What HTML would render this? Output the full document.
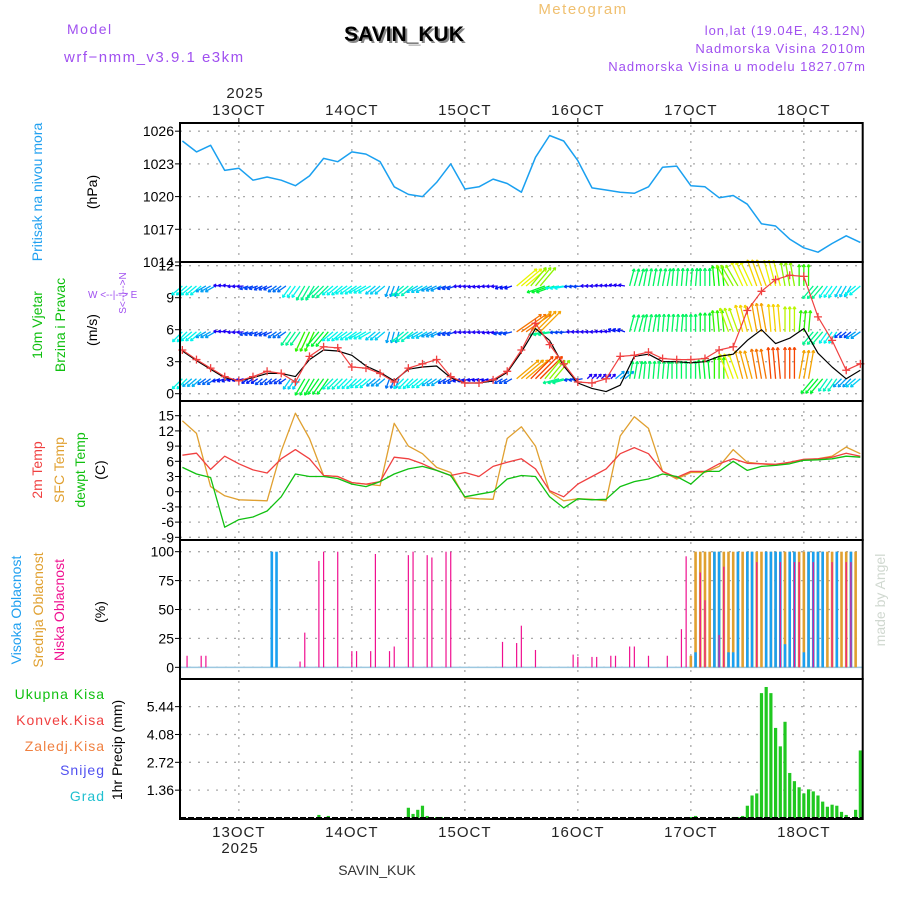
<!DOCTYPE html>
<html><head><meta charset="utf-8"><style>
html,body{margin:0;padding:0;background:#fff;}
#wrap{position:relative;width:900px;height:900px;overflow:hidden;font-family:"Liberation Sans",sans-serif;}
svg text{font-family:"Liberation Sans",sans-serif;}
</style></head><body>
<div id="wrap">
<svg id="chart" width="900" height="900" viewBox="0 0 900 900" xmlns="http://www.w3.org/2000/svg">
<text x="67" y="34" fill="#a050f0" font-size="14" letter-spacing="1.5">Model</text>
<text x="64" y="62" fill="#a050f0" font-size="15" letter-spacing="1.5">wrf−nmm_v3.9.1 e3km</text>
<text x="406" y="43" fill="#888" font-size="21" font-weight="bold" text-anchor="middle" font-family="Liberation Serif">SAVIN_KUK</text>
<text x="404" y="41" fill="#000" font-size="21" font-weight="bold" text-anchor="middle" font-family="Liberation Serif">SAVIN_KUK</text>
<text x="583" y="14" fill="#f0c070" font-size="15" letter-spacing="1.5" text-anchor="middle">Meteogram</text>
<text x="866" y="35" fill="#a050f0" font-size="13" letter-spacing="1" text-anchor="end">lon,lat (19.04E, 43.12N)</text>
<text x="866" y="53" fill="#a050f0" font-size="13" letter-spacing="1" text-anchor="end">Nadmorska Visina 2010m</text>
<text x="866" y="71" fill="#a050f0" font-size="13" letter-spacing="1" text-anchor="end">Nadmorska Visina u modelu 1827.07m</text>
<text x="245" y="98" fill="#222" font-size="15" letter-spacing="1" text-anchor="middle">2025</text>
<text x="240" y="853" fill="#222" font-size="15" letter-spacing="1" text-anchor="middle">2025</text>
<text x="377" y="875" fill="#333" font-size="14" font-family="Liberation Serif" text-anchor="middle">SAVIN_KUK</text>
<text transform="translate(885,600) rotate(-90)" fill="#d0d8d0" font-size="14" font-family="Liberation Serif" text-anchor="middle">made by Angel</text>

<text transform="translate(42,192) rotate(-90)" fill="#20a0f0" font-size="14" text-anchor="middle">Pritisak na nivou mora</text>
<text transform="translate(97,192) rotate(-90)" fill="#000" font-size="14" text-anchor="middle">(hPa)</text>
<text transform="translate(42,325) rotate(-90)" fill="#10c010" font-size="14" text-anchor="middle">10m Vjetar</text>
<text transform="translate(65,325) rotate(-90)" fill="#10c010" font-size="14" text-anchor="middle">Brzina i Pravac</text>
<text transform="translate(97,330) rotate(-90)" fill="#000" font-size="14" text-anchor="middle">(m/s)</text>
<text x="88" y="298" fill="#a050f0" font-size="10">W &lt;--|--&gt; E</text>
<text transform="translate(126,293) rotate(-90)" fill="#a050f0" font-size="10" text-anchor="middle">S&lt;--|--&gt;N</text>
<text transform="translate(42,470) rotate(-90)" fill="#f04040" font-size="14" text-anchor="middle">2m Temp</text>
<text transform="translate(64,470) rotate(-90)" fill="#e0a030" font-size="14" text-anchor="middle">SFC Temp</text>
<text transform="translate(85,470) rotate(-90)" fill="#10c010" font-size="14" text-anchor="middle">dewpt Temp</text>
<text transform="translate(105,470) rotate(-90)" fill="#000" font-size="14" text-anchor="middle">(C)</text>
<text transform="translate(21,610) rotate(-90)" fill="#20a0f0" font-size="14" text-anchor="middle">Visoka Oblacnost</text>
<text transform="translate(43,610) rotate(-90)" fill="#e0a030" font-size="14" text-anchor="middle">Srednja Oblacnost</text>
<text transform="translate(64,610) rotate(-90)" fill="#f01090" font-size="14" text-anchor="middle">Niska Oblacnost</text>
<text transform="translate(105,612) rotate(-90)" fill="#000" font-size="14" text-anchor="middle">(%)</text>
<text x="105" y="699" fill="#10c010" font-size="14" letter-spacing="1" text-anchor="end">Ukupna Kisa</text>
<text x="105" y="725" fill="#f04040" font-size="14" letter-spacing="1" text-anchor="end">Konvek.Kisa</text>
<text x="105" y="751" fill="#f08040" font-size="14" letter-spacing="1" text-anchor="end">Zaledj.Kisa</text>
<text x="105" y="775" fill="#5050f0" font-size="14" letter-spacing="1" text-anchor="end">Snijeg</text>
<text x="105" y="801" fill="#20c0d0" font-size="14" letter-spacing="1" text-anchor="end">Grad</text>
<text transform="translate(122,750) rotate(-90)" fill="#000" font-size="14" text-anchor="middle">1hr Precip (mm)</text>
<g id="plots"></g>
</svg>
</div>
<script>
// ---- data (hours from 12 Oct 12Z) ----
const dayLabels = ["13OCT","14OCT","15OCT","16OCT","17OCT","18OCT"];
const dayHours = [12,36,60,84,108,132];
const hours3 = [0,3,6,9,12,15,18,21,24,27,30,33,36,39,42,45,48,51,54,57,60,63,66,69,72,75,78,81,84,87,90,93,96,99,102,105,108,111,114,117,120,123,126,129,132,135,138,141,144];
const pressure = [1025.1,1024.1,1024.7,1022.4,1022.6,1021.5,1021.8,1021.5,1021.0,1021.9,1023.5,1023.2,1024.1,1023.9,1023.2,1020.9,1020.2,1020.0,1021.3,1023.0,1020.7,1020.9,1021.6,1021.2,1020.4,1023.6,1025.6,1025.1,1023.3,1020.8,1020.6,1020.4,1020.3,1020.9,1022.7,1022.8,1021.0,1020.9,1019.9,1020.1,1019.3,1017.5,1017.3,1016.1,1015.3,1014.9,1015.7,1016.4,1015.8];
const pressureTicks = [1014,1017,1020,1023,1026];
const windSpeed = [4.1,3.2,2.4,1.6,1.2,1.6,2.1,1.9,1.1,3.5,4.4,4.3,2.5,2.4,1.9,1.1,2.4,2.8,3.2,1.6,1.0,1.0,1.3,2.1,4.1,6.6,4.6,2.8,1.1,1.0,1.4,3.5,3.6,3.9,3.3,3.2,3.2,3.3,4.1,4.4,7.8,9.6,10.7,11.1,11.0,7.2,5.0,2.2,2.8];
const windOther = [4.0,3.1,2.3,1.5,1.2,1.5,1.9,1.9,1.6,3.2,4.1,4.0,3.6,2.6,2.0,1.2,2.3,2.5,2.6,1.5,1.0,1.0,1.2,2.0,3.9,6.1,5.0,2.6,1.0,0.5,0.2,0.8,3.5,3.7,3.0,3.0,2.9,3.0,3.5,3.7,5.0,6.0,4.7,5.2,6.1,3.8,2.5,1.4,2.2];
const windTicks = [0,3,6,9,12];
const row1Spd = [4,4,3,1,1,2,2,2.5,4,5,5,4,4,4,3.5,3,4.5,3.5,3,2,1,1,1,1.5,9,8,6,4,2,1,1,1,5.5,5.5,5.5,5.5,5.5,5.5,6.5,8,9,9.5,9,8,7,5,4,3.5,4];
const row1Dir = [230,230,240,275,265,250,245,235,215,210,225,230,235,240,230,200,230,240,245,250,265,260,265,250,50,40,250,260,265,270,275,280,15,10,10,5,5,0,355,330,335,340,345,350,0,220,215,210,230];
const row2Spd = [4,4,3,1,1,2,2,2.5,5,7,6,4,4,4,3.5,3,4.5,3.5,3,2,1,1,1,2,10.5,10,5,2,1,1,1,1.5,5.5,5.5,5.5,5.5,5.5,6,7,8.5,9.5,10,9.5,8.5,7,5,4,2,3];
const row2Dir = [225,230,240,275,265,250,245,235,215,205,220,230,235,240,230,195,230,240,245,250,265,265,260,255,55,45,260,265,270,270,275,290,15,10,5,5,0,0,355,340,345,350,355,0,5,220,215,230,235];
const row3Spd = [4.1,3.2,2.4,1.6,1.2,1.6,2.1,1.9,3.5,6,6,4.3,4,4,3,2.5,4,4,3.2,2,1.5,1.2,1.3,2.1,10,11,8,5,2,1,1,3,5.5,5.5,5.5,5.5,5.5,6,7,9,10,10.5,11,11,10,6,4.5,3,3.5];
const row3Dir = [225,230,235,250,255,235,230,235,215,210,215,225,225,230,230,200,225,230,235,240,250,255,250,240,50,45,40,255,260,45,45,50,10,5,5,0,0,355,0,340,345,350,355,0,10,220,215,225,230];
const temp2m = [7.2,7.6,4.4,7.0,5.5,4.3,3.7,6.5,8.3,6.5,3.2,3.0,1.8,1.5,2.0,6.8,6.5,5.5,4.2,3.2,3.8,3.0,5.0,5.8,6.5,4.5,0.2,-1.0,1.5,3.0,4.5,7.5,8.7,7.5,4.0,2.8,4.0,4.0,5.5,6.5,5.6,5.5,5.4,5.8,6.4,6.5,6.8,7.6,7.0];
const tempSfc = [14.0,11.5,1.0,-0.8,-1.6,-1.7,-1.8,8.0,15.5,10.5,3.2,3.0,1.8,1.5,1.2,13.5,9.0,7.5,4.8,3.8,-1.2,-1.4,-1.5,10.5,12.8,9.0,0.0,-1.8,-1.4,-1.5,-1.8,11.0,14.8,12.5,4.0,2.5,3.8,3.8,5.0,8.3,5.8,5.5,5.2,5.8,6.3,6.5,7.0,8.8,7.5];
const tempDew = [4.8,3.5,2.8,-7.0,-5.5,-5.0,-3.8,-1.0,3.5,3.0,3.0,2.6,1.5,1.0,2.0,3.5,4.5,5.0,4.2,3.2,-1.0,-0.5,0.0,2.5,3.2,3.0,-1.0,-3.2,-1.4,-1.6,-1.5,1.0,2.0,2.5,3.5,3.0,1.5,4.0,4.0,6.0,4.2,5.0,5.2,5.5,6.2,6.3,6.5,7.0,6.8];
const tempTicks = [-9,-6,-3,0,3,6,9,12,15];
const lowCloudH = [1,4,5,25,26,29,30,33,36,37,40,41,44,45,48,49,52,53,56,57,68,71,72,75,83,84,87,88,91,92,95,96,99,103,106,107,110,111,114,115,122,127,130,131,134,138,141,142];
const lowCloudV = [10,10,10,5,30,92,100,100,14,14,14,98,14,18,97,100,97,95,100,100,22,21,36,15,11,9,9,9,10,10,18,18,10,10,33,96,82,58,28,87,91,91,91,91,91,91,91,91];
const midCloudH = [108,109,110,111,112,113,114,115,116,117,118,119,120,121,122,123,124,125,126,127,128,129,130,131,132,133,134,135,136,137,138,139,140,141,142,143];
const midCloudV = [10,100,100,100,100,100,100,100,100,100,100,100,100,100,100,100,100,100,100,100,100,100,100,100,100,100,100,100,100,100,100,100,100,100,100,100];
const highCloudH = [19,20,109,113,114,116,117,118,120,121,124,125,126,127,128,129,130,132,133,134,135,136,139,142];
const highCloudV = [100,100,13,100,100,13,13,100,100,100,100,100,100,100,20,100,100,13,100,100,100,100,100,100];
const cloudTicks = [0,25,50,75,100];
const precipH = [29,31,48,49,50,51,52,54,55,56,108,109,117,118,119,120,121,122,123,124,125,126,127,128,129,130,131,132,133,134,135,136,137,138,139,140,141,143,144];
const precipV = [0.15,0.1,0.5,0.2,0.4,0.6,0.1,0.05,0.05,0.05,0.05,0.1,0.05,0.05,0.1,0.6,1.1,1.2,6.1,6.4,6.1,4.4,3.5,4.7,2.2,1.8,1.5,1.2,1.4,1.3,1.1,0.8,0.55,0.65,0.6,0.3,0.15,0.4,3.3];
const precipTicks = [1.36,2.72,4.08,5.44];
const precipTickLabels = ["1.36","2.72","4.08","5.44"];

// ---- layout ----
const NS="http://www.w3.org/2000/svg";
const g=document.getElementById('plots');
const X0=180, X1=862.7, HMIN=-0.5, HMAX=144.5;
function xs(h){return X0+(h-HMIN)*(X1-X0)/(HMAX-HMIN);}
function mk(tag,attrs,parent){const e=document.createElementNS(NS,tag);for(const k in attrs)e.setAttribute(k,attrs[k]);(parent||g).appendChild(e);return e;}
function yScale(top,bot,vmin,vmax){return v=>bot-(v-vmin)*(bot-top)/(vmax-vmin);}
const P=[
 {top:123,bot:262,y:yScale(123,262,1014,1026.75),name:'pressure'},
 {top:262,bot:401,y:yScale(262,401,-0.684,12.347),name:'wind'},
 {top:401,bot:540,y:yScale(401,540,-9.53,17.9),name:'temperature'},
 {top:540,bot:679,y:yScale(540,679,-10.1,110.1),name:'cloud'},
 {top:679,bot:819,y:yScale(679,818,0,6.79),name:'precip'}
];
function grid(p,ticks,labels){
  const gg=mk('g',{});
  
  
  ticks.forEach((t,i)=>{
    const y=p.y(t);
    if(y>p.top+2&&y<p.bot-1){
      mk('line',{x1:X0,x2:X1,y1:y,y2:y,stroke:'#aaa','stroke-width':1.3,'stroke-dasharray':'2,7'},gg);
    }
    mk('line',{x1:X0-5,x2:X0,y1:y,y2:y,stroke:'#000','stroke-width':1},gg);
    const tx=mk('text',{x:174,y:y+5,'font-size':14,'text-anchor':'end',fill:'#000'},gg);
    tx.textContent=labels?labels[i]:String(t);
    
    
  });
  dayHours.forEach(h=>{
    mk('line',{x1:xs(h),x2:xs(h),y1:p.top+2,y2:p.bot,stroke:'#aaa','stroke-width':1.3,'stroke-dasharray':'2,6'},gg);
  });
}
grid(P[0],pressureTicks);
grid(P[1],windTicks);
grid(P[2],tempTicks);
grid(P[3],cloudTicks);
grid(P[4],precipTicks,precipTickLabels);

dayHours.forEach((h,i)=>{
  const t=mk('text',{x:xs(h),y:115,'font-size':15,'letter-spacing':1,'text-anchor':'middle',fill:'#222'});
  t.textContent=dayLabels[i];
  
  
  mk('line',{x1:xs(h),x2:xs(h),y1:118,y2:123,stroke:'#000'});
  const b=mk('text',{x:xs(h),y:837,'font-size':15,'letter-spacing':1,'text-anchor':'middle',fill:'#222'});
  b.textContent=dayLabels[i];
  
  
});

function line(p,vals,color,name,w){
  const d=vals.map((v,i)=>(i?'L':'M')+xs(hours3[i]).toFixed(1)+','+p.y(v).toFixed(1)).join('');
  const e=mk('path',{d:d,fill:'none',stroke:color,'stroke-width':w||1.3,'stroke-linejoin':'round'});
  
  
  return e;
}
line(P[0],pressure,'#1aa0f0','pressure-line',1.5);

function hue(s){return Math.max(0,270-s*23);}
function arrows(spd,dir,base,name){
  const gg=mk('g',{});
  
  
  const y0=P[1].y(base);
  spd.forEach((s,i)=>{
    for(let k=-1;k<=1;k++){
      const h=hours3[i]+k; if(h<0||h>144) continue;
      const x=xs(h), L=4+s*2.5, a=dir[i]*Math.PI/180;
      const tx=x+L*Math.sin(a), ty=y0-L*Math.cos(a);
      const c='hsl('+hue(s)+',100%,48%)';
      mk('line',{x1:x,y1:y0,x2:tx,y2:ty,stroke:c,'stroke-width':1.3},gg);
      const ha=3;
      [a+2.6,a-2.6].forEach(b=>mk('line',{x1:tx,y1:ty,x2:tx+ha*Math.sin(b),y2:ty-ha*Math.cos(b),stroke:c,'stroke-width':1.2},gg));
    }
  });
}
arrows(row1Spd,row1Dir,10.1,'wind-arrows-upper');
arrows(row2Spd,row2Dir,5.8,'wind-arrows-middle');
arrows(row3Spd,row3Dir,1.4,'wind-arrows-lower');
line(P[1],windOther,'#000','wind-gust-line',1.2);
line(P[1],windSpeed,'#f04040','wind-speed-line',1.2);
windSpeed.forEach((v,i)=>{
  const x=xs(hours3[i]), y=P[1].y(v);
  const m=mk('path',{d:`M${x-4},${y}H${x+4}M${x},${y-4}V${y+4}`,stroke:'#f04040','stroke-width':1.3});
  
  
});

line(P[2],tempSfc,'#e0a030','sfc-temp-line');
line(P[2],temp2m,'#f04040','temp-2m-line');
line(P[2],tempDew,'#10c010','dewpoint-line');

mk('line',{x1:X0,x2:X1,y1:P[3].y(0),y2:P[3].y(0),stroke:'#9cc8e0','stroke-width':1.5});
function bars(p,H,V,color,w,name){
  H.forEach((h,i)=>{
    const y=p.y(V[i]), y0=p.y(0);
    const r=mk('rect',{x:xs(h)-w/2,y:y,width:w,height:Math.max(0,y0-y),fill:color});
    
    
  });
}
bars(P[3],midCloudH,midCloudV,'#e0a030',2.6,'mid-cloud-bar');
bars(P[3],highCloudH,highCloudV,'#1aa0f0',2.6,'high-cloud-bar');
bars(P[3],lowCloudH,lowCloudV,'#f01090',1.2,'low-cloud-bar');

bars(P[4],precipH,precipV,'#20c820',3.2,'precip-bar');
mk('line',{x1:X0,x2:X1,y1:P[4].y(0),y2:P[4].y(0),stroke:'#000','stroke-width':2,'stroke-dasharray':'6,2'});

P.forEach(p=>{
  const r=mk('rect',{x:X0,y:p.top,width:X1-X0,height:p.bot-p.top,fill:'none',stroke:'#000','stroke-width':2});
  
  
});
</script>
</body></html>
